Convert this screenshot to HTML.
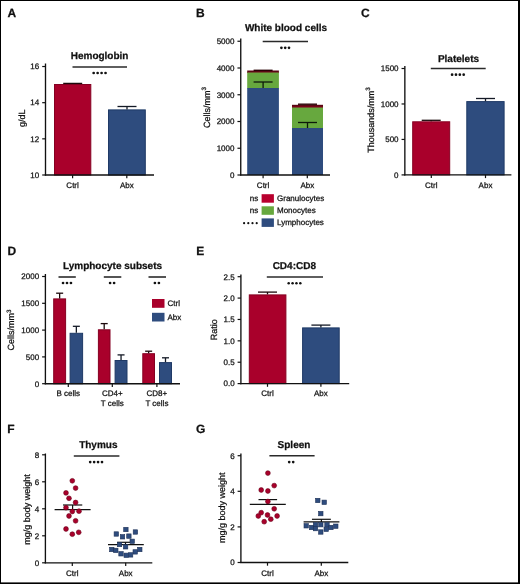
<!DOCTYPE html>
<html><head><meta charset="utf-8"><style>
html,body{margin:0;padding:0;background:#fff;}
svg{display:block;will-change:transform;}
text{font-family:"Liberation Sans", sans-serif;fill:#111;stroke:#111;stroke-width:0.25px;text-rendering:geometricPrecision;}
</style></head><body>
<svg width="520" height="584" viewBox="0 0 520 584">
<rect x="0" y="0" width="520" height="584" fill="#000"/>
<rect x="1" y="1" width="517" height="581.4" fill="#fff"/>
<text x="7.6" y="17.3" font-size="12" text-anchor="start" font-weight="bold">A</text>
<text x="99.6" y="58.8" font-size="10" text-anchor="middle" font-weight="bold">Hemoglobin</text>
<line x1="72.5" y1="66.9" x2="127" y2="66.9" stroke="#2a2a2a" stroke-width="1.5"/>
<circle cx="93.67" cy="73" r="1.35" fill="#111"/>
<circle cx="97.62" cy="73" r="1.35" fill="#111"/>
<circle cx="101.58" cy="73" r="1.35" fill="#111"/>
<circle cx="105.53" cy="73" r="1.35" fill="#111"/>
<rect x="54.5" y="84.5" width="36.3" height="90.5" fill="#a9002b" stroke="#850022" stroke-width="1"/>
<rect x="108.5" y="109.9" width="36.8" height="65.1" fill="#2e4c7e" stroke="#1f3a66" stroke-width="1"/>
<line x1="63.2" y1="83.4" x2="82.2" y2="83.4" stroke="#1c0a0c" stroke-width="1.3"/>
<line x1="72.7" y1="83.4" x2="72.7" y2="84" stroke="#1c0a0c" stroke-width="1.3"/>
<line x1="117.5" y1="106.5" x2="136.5" y2="106.5" stroke="#141a26" stroke-width="1.3"/>
<line x1="127" y1="106.5" x2="127" y2="109.4" stroke="#141a26" stroke-width="1.3"/>
<line x1="45.5" y1="63.5" x2="45.5" y2="175.6" stroke="#111" stroke-width="1.35"/>
<line x1="42.2" y1="66.52" x2="45.5" y2="66.52" stroke="#111" stroke-width="1.2"/>
<text x="39.2" y="69.32" font-size="8" text-anchor="end">16</text>
<line x1="42.2" y1="102.68" x2="45.5" y2="102.68" stroke="#111" stroke-width="1.2"/>
<text x="39.2" y="105.48" font-size="8" text-anchor="end">14</text>
<line x1="42.2" y1="138.84" x2="45.5" y2="138.84" stroke="#111" stroke-width="1.2"/>
<text x="39.2" y="141.64" font-size="8" text-anchor="end">12</text>
<line x1="42.2" y1="175" x2="45.5" y2="175" stroke="#111" stroke-width="1.2"/>
<text x="39.2" y="177.8" font-size="8" text-anchor="end">10</text>
<line x1="44.9" y1="175" x2="154" y2="175" stroke="#111" stroke-width="1.35"/>
<line x1="72.6" y1="175" x2="72.6" y2="178.2" stroke="#111" stroke-width="1.2"/>
<line x1="126.8" y1="175" x2="126.8" y2="178.2" stroke="#111" stroke-width="1.2"/>
<text x="72.6" y="187.5" font-size="8" text-anchor="middle">Ctrl</text>
<text x="126.8" y="187.5" font-size="8" text-anchor="middle">Abx</text>
<text transform="translate(25.3,118.3) rotate(-90)" font-size="9" text-anchor="middle">g/dL</text>
<text x="196" y="17.3" font-size="12" text-anchor="start" font-weight="bold">B</text>
<text x="286" y="31.3" font-size="10" text-anchor="middle" font-weight="bold">White blood cells</text>
<line x1="262.7" y1="41.6" x2="308" y2="41.6" stroke="#2a2a2a" stroke-width="1.5"/>
<circle cx="281.4" cy="47.8" r="1.35" fill="#111"/>
<circle cx="285.2" cy="47.8" r="1.35" fill="#111"/>
<circle cx="289" cy="47.8" r="1.35" fill="#111"/>
<rect x="247.2" y="70.5" width="31.7" height="2.5" fill="#5a0612"/>
<rect x="247.2" y="72.1" width="31.7" height="0.6" fill="#8a0020"/>
<rect x="247.2" y="72.5" width="31.7" height="16" fill="#67a83e"/>
<rect x="247.2" y="88" width="31.7" height="87" fill="#2e4c7e"/>
<line x1="253.6" y1="70.3" x2="272.6" y2="70.3" stroke="#2a0005" stroke-width="1.4"/>
<line x1="253.6" y1="82" x2="272.6" y2="82" stroke="#0e1a0a" stroke-width="1.3"/>
<line x1="263.1" y1="82" x2="263.1" y2="88" stroke="#0e1a0a" stroke-width="1.3"/>
<rect x="292" y="104.8" width="31" height="3.2" fill="#5a0612"/>
<rect x="292" y="106.4" width="31" height="1.3" fill="#8a0020"/>
<rect x="292" y="107.5" width="31" height="21" fill="#67a83e"/>
<rect x="292" y="128" width="31" height="47" fill="#2e4c7e"/>
<line x1="298" y1="104.2" x2="317" y2="104.2" stroke="#2a0005" stroke-width="1.4"/>
<line x1="298" y1="122.5" x2="317" y2="122.5" stroke="#0e1a0a" stroke-width="1.3"/>
<line x1="307.5" y1="122.5" x2="307.5" y2="128" stroke="#0e1a0a" stroke-width="1.3"/>
<line x1="240.75" y1="38.6" x2="240.75" y2="175.6" stroke="#111" stroke-width="1.35"/>
<line x1="237.45" y1="41.25" x2="240.75" y2="41.25" stroke="#111" stroke-width="1.2"/>
<text x="234.45" y="44.05" font-size="8" text-anchor="end">5000</text>
<line x1="237.45" y1="68" x2="240.75" y2="68" stroke="#111" stroke-width="1.2"/>
<text x="234.45" y="70.8" font-size="8" text-anchor="end">4000</text>
<line x1="237.45" y1="94.75" x2="240.75" y2="94.75" stroke="#111" stroke-width="1.2"/>
<text x="234.45" y="97.55" font-size="8" text-anchor="end">3000</text>
<line x1="237.45" y1="121.5" x2="240.75" y2="121.5" stroke="#111" stroke-width="1.2"/>
<text x="234.45" y="124.3" font-size="8" text-anchor="end">2000</text>
<line x1="237.45" y1="148.25" x2="240.75" y2="148.25" stroke="#111" stroke-width="1.2"/>
<text x="234.45" y="151.05" font-size="8" text-anchor="end">1000</text>
<line x1="237.45" y1="175" x2="240.75" y2="175" stroke="#111" stroke-width="1.2"/>
<text x="234.45" y="177.8" font-size="8" text-anchor="end">0</text>
<line x1="240.15" y1="175" x2="330" y2="175" stroke="#111" stroke-width="1.35"/>
<line x1="263.1" y1="175" x2="263.1" y2="178.2" stroke="#111" stroke-width="1.2"/>
<line x1="307.3" y1="175" x2="307.3" y2="178.2" stroke="#111" stroke-width="1.2"/>
<text x="263.1" y="187.5" font-size="8" text-anchor="middle">Ctrl</text>
<text x="307.3" y="187.5" font-size="8" text-anchor="middle">Abx</text>
<text transform="translate(210,107.6) rotate(-90)" font-size="9" text-anchor="middle">Cells/mm<tspan dy="-3.6" font-size="6.3">3</tspan></text>
<rect x="261.6" y="194.2" width="12.3" height="8.5" fill="#b8002e"/>
<text x="277" y="201" font-size="8" text-anchor="start">Granulocytes</text>
<text x="258.3" y="201" font-size="8" text-anchor="end">ns</text>
<rect x="261.6" y="206.3" width="12.3" height="8.5" fill="#67a83e"/>
<text x="277" y="213.1" font-size="8" text-anchor="start">Monocytes</text>
<text x="258.3" y="213.1" font-size="8" text-anchor="end">ns</text>
<rect x="261.6" y="218.4" width="12.3" height="8.5" fill="#2e4c7e"/>
<text x="277" y="225.2" font-size="8" text-anchor="start">Lymphocytes</text>
<circle cx="244.1" cy="223.2" r="1.1" fill="#111"/>
<circle cx="248.3" cy="223.2" r="1.1" fill="#111"/>
<circle cx="252.5" cy="223.2" r="1.1" fill="#111"/>
<circle cx="256.7" cy="223.2" r="1.1" fill="#111"/>
<text x="361" y="17.3" font-size="12" text-anchor="start" font-weight="bold">C</text>
<text x="458.5" y="62.2" font-size="10" text-anchor="middle" font-weight="bold">Platelets</text>
<line x1="430.8" y1="68.6" x2="485.7" y2="68.6" stroke="#2a2a2a" stroke-width="1.5"/>
<circle cx="452.09" cy="74.7" r="1.35" fill="#111"/>
<circle cx="455.96" cy="74.7" r="1.35" fill="#111"/>
<circle cx="459.83" cy="74.7" r="1.35" fill="#111"/>
<circle cx="463.7" cy="74.7" r="1.35" fill="#111"/>
<rect x="412.7" y="121.8" width="37" height="53.1" fill="#a9002b" stroke="#850022" stroke-width="1"/>
<rect x="466.8" y="101.6" width="37.3" height="73.3" fill="#2e4c7e" stroke="#1f3a66" stroke-width="1"/>
<line x1="421.7" y1="120.3" x2="440.7" y2="120.3" stroke="#1c0a0c" stroke-width="1.3"/>
<line x1="431.2" y1="120.3" x2="431.2" y2="121.3" stroke="#1c0a0c" stroke-width="1.3"/>
<line x1="476" y1="98.5" x2="495" y2="98.5" stroke="#141a26" stroke-width="1.3"/>
<line x1="485.5" y1="98.5" x2="485.5" y2="101.2" stroke="#141a26" stroke-width="1.3"/>
<line x1="404.85" y1="66" x2="404.85" y2="175.5" stroke="#111" stroke-width="1.35"/>
<line x1="401.55" y1="68.5" x2="404.85" y2="68.5" stroke="#111" stroke-width="1.2"/>
<text x="398.55" y="71.3" font-size="8" text-anchor="end">1500</text>
<line x1="401.55" y1="103.97" x2="404.85" y2="103.97" stroke="#111" stroke-width="1.2"/>
<text x="398.55" y="106.77" font-size="8" text-anchor="end">1000</text>
<line x1="401.55" y1="139.44" x2="404.85" y2="139.44" stroke="#111" stroke-width="1.2"/>
<text x="398.55" y="142.24" font-size="8" text-anchor="end">500</text>
<line x1="401.55" y1="174.9" x2="404.85" y2="174.9" stroke="#111" stroke-width="1.2"/>
<text x="398.55" y="177.7" font-size="8" text-anchor="end">0</text>
<line x1="404.25" y1="174.9" x2="511.4" y2="174.9" stroke="#111" stroke-width="1.35"/>
<line x1="431.3" y1="174.9" x2="431.3" y2="178.1" stroke="#111" stroke-width="1.2"/>
<line x1="485.5" y1="174.9" x2="485.5" y2="178.1" stroke="#111" stroke-width="1.2"/>
<text x="431.3" y="187.5" font-size="8" text-anchor="middle">Ctrl</text>
<text x="485.5" y="187.5" font-size="8" text-anchor="middle">Abx</text>
<text transform="translate(374,120) rotate(-90)" font-size="9" text-anchor="middle">Thousands/mm<tspan dy="-3.6" font-size="6.3">3</tspan></text>
<text x="7.4" y="254.5" font-size="12" text-anchor="start" font-weight="bold">D</text>
<text x="112.5" y="269.3" font-size="10" text-anchor="middle" font-weight="bold">Lymphocyte subsets</text>
<line x1="58.5" y1="277" x2="75.8" y2="277" stroke="#2a2a2a" stroke-width="1.6"/>
<line x1="103.8" y1="277" x2="121.3" y2="277" stroke="#2a2a2a" stroke-width="1.6"/>
<line x1="148.5" y1="277" x2="166" y2="277" stroke="#2a2a2a" stroke-width="1.6"/>
<circle cx="63.05" cy="283" r="1.35" fill="#111"/>
<circle cx="67" cy="283" r="1.35" fill="#111"/>
<circle cx="70.95" cy="283" r="1.35" fill="#111"/>
<circle cx="110.1" cy="283" r="1.35" fill="#111"/>
<circle cx="114.1" cy="283" r="1.35" fill="#111"/>
<circle cx="154.9" cy="283" r="1.35" fill="#111"/>
<circle cx="158.9" cy="283" r="1.35" fill="#111"/>
<rect x="53.7" y="298.9" width="11.9" height="84.8" fill="#a9002b" stroke="#850022" stroke-width="1"/>
<line x1="56.15" y1="293.2" x2="63.15" y2="293.2" stroke="#1c0a0c" stroke-width="1.3"/>
<line x1="59.65" y1="293.2" x2="59.65" y2="298.4" stroke="#1c0a0c" stroke-width="1.3"/>
<rect x="70.1" y="333.3" width="12.5" height="50.4" fill="#2e4c7e" stroke="#1f3a66" stroke-width="1"/>
<line x1="72.85" y1="326.3" x2="79.85" y2="326.3" stroke="#141a26" stroke-width="1.3"/>
<line x1="76.35" y1="326.3" x2="76.35" y2="332.8" stroke="#141a26" stroke-width="1.3"/>
<rect x="98.4" y="329.8" width="11.6" height="53.9" fill="#a9002b" stroke="#850022" stroke-width="1"/>
<line x1="100.7" y1="323.6" x2="107.7" y2="323.6" stroke="#1c0a0c" stroke-width="1.3"/>
<line x1="104.2" y1="323.6" x2="104.2" y2="329.3" stroke="#1c0a0c" stroke-width="1.3"/>
<rect x="115.1" y="360.5" width="11.9" height="23.2" fill="#2e4c7e" stroke="#1f3a66" stroke-width="1"/>
<line x1="117.55" y1="354.9" x2="124.55" y2="354.9" stroke="#141a26" stroke-width="1.3"/>
<line x1="121.05" y1="354.9" x2="121.05" y2="360" stroke="#141a26" stroke-width="1.3"/>
<rect x="142.8" y="353.7" width="11.7" height="30" fill="#a9002b" stroke="#850022" stroke-width="1"/>
<line x1="145.15" y1="351.2" x2="152.15" y2="351.2" stroke="#1c0a0c" stroke-width="1.3"/>
<line x1="148.65" y1="351.2" x2="148.65" y2="353.2" stroke="#1c0a0c" stroke-width="1.3"/>
<rect x="159.5" y="362.6" width="12" height="21.1" fill="#2e4c7e" stroke="#1f3a66" stroke-width="1"/>
<line x1="162" y1="357.8" x2="169" y2="357.8" stroke="#141a26" stroke-width="1.3"/>
<line x1="165.5" y1="357.8" x2="165.5" y2="362.1" stroke="#141a26" stroke-width="1.3"/>
<line x1="45.4" y1="274" x2="45.4" y2="384.3" stroke="#111" stroke-width="1.35"/>
<line x1="42.1" y1="276.5" x2="45.4" y2="276.5" stroke="#111" stroke-width="1.2"/>
<text x="39.1" y="279.3" font-size="8" text-anchor="end">2000</text>
<line x1="42.1" y1="303.3" x2="45.4" y2="303.3" stroke="#111" stroke-width="1.2"/>
<text x="39.1" y="306.1" font-size="8" text-anchor="end">1500</text>
<line x1="42.1" y1="330.1" x2="45.4" y2="330.1" stroke="#111" stroke-width="1.2"/>
<text x="39.1" y="332.9" font-size="8" text-anchor="end">1000</text>
<line x1="42.1" y1="356.9" x2="45.4" y2="356.9" stroke="#111" stroke-width="1.2"/>
<text x="39.1" y="359.7" font-size="8" text-anchor="end">500</text>
<line x1="42.1" y1="383.7" x2="45.4" y2="383.7" stroke="#111" stroke-width="1.2"/>
<text x="39.1" y="386.5" font-size="8" text-anchor="end">0</text>
<line x1="44.8" y1="383.7" x2="180" y2="383.7" stroke="#111" stroke-width="1.35"/>
<line x1="68.3" y1="383.7" x2="68.3" y2="386.9" stroke="#111" stroke-width="1.2"/>
<line x1="112.3" y1="383.7" x2="112.3" y2="386.9" stroke="#111" stroke-width="1.2"/>
<line x1="156.9" y1="383.7" x2="156.9" y2="386.9" stroke="#111" stroke-width="1.2"/>
<text x="68.3" y="396" font-size="8" text-anchor="middle">B cells</text>
<text x="112.3" y="396" font-size="8" text-anchor="middle">CD4+</text>
<text x="112.3" y="406" font-size="8" text-anchor="middle">T cells</text>
<text x="156.9" y="396" font-size="8" text-anchor="middle">CD8+</text>
<text x="156.9" y="406" font-size="8" text-anchor="middle">T cells</text>
<text transform="translate(14.4,330) rotate(-90)" font-size="9" text-anchor="middle">Cells/mm<tspan dy="-3.6" font-size="6.3">3</tspan></text>
<rect x="152" y="299" width="12.5" height="8.8" fill="#a9002b"/>
<rect x="152" y="312.8" width="12.5" height="8.7" fill="#2e4c7e"/>
<text x="167.5" y="306.3" font-size="8" text-anchor="start">Ctrl</text>
<text x="167.5" y="320" font-size="8" text-anchor="start">Abx</text>
<text x="196.3" y="254.5" font-size="12" text-anchor="start" font-weight="bold">E</text>
<text x="294.3" y="269.3" font-size="10" text-anchor="middle" font-weight="bold">CD4:CD8</text>
<line x1="266.8" y1="276.9" x2="323" y2="276.9" stroke="#2a2a2a" stroke-width="1.5"/>
<circle cx="288.69" cy="283.2" r="1.25" fill="#111"/>
<circle cx="292.56" cy="283.2" r="1.25" fill="#111"/>
<circle cx="296.44" cy="283.2" r="1.25" fill="#111"/>
<circle cx="300.31" cy="283.2" r="1.25" fill="#111"/>
<rect x="249.3" y="294.9" width="36.6" height="88.7" fill="#a9002b" stroke="#850022" stroke-width="1"/>
<rect x="302.6" y="327.9" width="36.6" height="55.7" fill="#2e4c7e" stroke="#1f3a66" stroke-width="1"/>
<line x1="258" y1="292.1" x2="277" y2="292.1" stroke="#1c0a0c" stroke-width="1.3"/>
<line x1="267.5" y1="292.1" x2="267.5" y2="294.4" stroke="#1c0a0c" stroke-width="1.3"/>
<line x1="311.4" y1="325.1" x2="330.4" y2="325.1" stroke="#141a26" stroke-width="1.3"/>
<line x1="320.9" y1="325.1" x2="320.9" y2="327.4" stroke="#141a26" stroke-width="1.3"/>
<line x1="240.9" y1="274.5" x2="240.9" y2="384.2" stroke="#111" stroke-width="1.35"/>
<line x1="237.6" y1="276.7" x2="240.9" y2="276.7" stroke="#111" stroke-width="1.2"/>
<text x="234.6" y="279.5" font-size="8" text-anchor="end">2.5</text>
<line x1="237.6" y1="298.08" x2="240.9" y2="298.08" stroke="#111" stroke-width="1.2"/>
<text x="234.6" y="300.88" font-size="8" text-anchor="end">2.0</text>
<line x1="237.6" y1="319.46" x2="240.9" y2="319.46" stroke="#111" stroke-width="1.2"/>
<text x="234.6" y="322.26" font-size="8" text-anchor="end">1.5</text>
<line x1="237.6" y1="340.84" x2="240.9" y2="340.84" stroke="#111" stroke-width="1.2"/>
<text x="234.6" y="343.64" font-size="8" text-anchor="end">1.0</text>
<line x1="237.6" y1="362.22" x2="240.9" y2="362.22" stroke="#111" stroke-width="1.2"/>
<text x="234.6" y="365.02" font-size="8" text-anchor="end">0.5</text>
<line x1="237.6" y1="383.6" x2="240.9" y2="383.6" stroke="#111" stroke-width="1.2"/>
<text x="234.6" y="386.4" font-size="8" text-anchor="end">0.0</text>
<line x1="240.3" y1="383.6" x2="349.2" y2="383.6" stroke="#111" stroke-width="1.35"/>
<line x1="267.5" y1="383.6" x2="267.5" y2="386.8" stroke="#111" stroke-width="1.2"/>
<line x1="320.9" y1="383.6" x2="320.9" y2="386.8" stroke="#111" stroke-width="1.2"/>
<text x="267.5" y="396.3" font-size="8" text-anchor="middle">Ctrl</text>
<text x="320.9" y="396.3" font-size="8" text-anchor="middle">Abx</text>
<text transform="translate(216.5,329.7) rotate(-90)" font-size="9" text-anchor="middle">Ratio</text>
<text x="7.2" y="433.3" font-size="12" text-anchor="start" font-weight="bold">F</text>
<text x="98.3" y="448.3" font-size="10" text-anchor="middle" font-weight="bold">Thymus</text>
<line x1="73.8" y1="455.9" x2="119.4" y2="455.9" stroke="#2a2a2a" stroke-width="1.5"/>
<circle cx="90.2" cy="462.1" r="1.35" fill="#111"/>
<circle cx="94.14" cy="462.1" r="1.35" fill="#111"/>
<circle cx="98.06" cy="462.1" r="1.35" fill="#111"/>
<circle cx="102" cy="462.1" r="1.35" fill="#111"/>
<line x1="54.6" y1="509.6" x2="90.6" y2="509.6" stroke="#111" stroke-width="1.35"/>
<line x1="62.95" y1="505" x2="82.25" y2="505" stroke="#111" stroke-width="1.2"/>
<line x1="72.6" y1="505" x2="72.6" y2="509.6" stroke="#111" stroke-width="1.2"/>
<line x1="108" y1="544.6" x2="143.8" y2="544.6" stroke="#111" stroke-width="1.35"/>
<line x1="117.1" y1="542.3" x2="133.9" y2="542.3" stroke="#111" stroke-width="1.2"/>
<line x1="125.5" y1="542.3" x2="125.5" y2="544.6" stroke="#111" stroke-width="1.2"/>
<circle cx="72.3" cy="480.8" r="2.4" fill="#a9002b" stroke="#6a0018" stroke-width="0.6"/>
<circle cx="75.6" cy="488.1" r="2.4" fill="#a9002b" stroke="#6a0018" stroke-width="0.6"/>
<circle cx="66" cy="492.9" r="2.4" fill="#a9002b" stroke="#6a0018" stroke-width="0.6"/>
<circle cx="69" cy="498.3" r="2.4" fill="#a9002b" stroke="#6a0018" stroke-width="0.6"/>
<circle cx="75.6" cy="502.5" r="2.4" fill="#a9002b" stroke="#6a0018" stroke-width="0.6"/>
<circle cx="66" cy="507.7" r="2.4" fill="#a9002b" stroke="#6a0018" stroke-width="0.6"/>
<circle cx="72.3" cy="511.5" r="2.4" fill="#a9002b" stroke="#6a0018" stroke-width="0.6"/>
<circle cx="79" cy="511.2" r="2.4" fill="#a9002b" stroke="#6a0018" stroke-width="0.6"/>
<circle cx="69" cy="516" r="2.4" fill="#a9002b" stroke="#6a0018" stroke-width="0.6"/>
<circle cx="75.6" cy="520.8" r="2.4" fill="#a9002b" stroke="#6a0018" stroke-width="0.6"/>
<circle cx="66" cy="529" r="2.4" fill="#a9002b" stroke="#6a0018" stroke-width="0.6"/>
<circle cx="72.3" cy="534.2" r="2.4" fill="#a9002b" stroke="#6a0018" stroke-width="0.6"/>
<circle cx="78.7" cy="532.3" r="2.4" fill="#a9002b" stroke="#6a0018" stroke-width="0.6"/>
<rect x="123.7" y="527.3" width="4.4" height="4.4" fill="#2e4c7e" stroke="#1e3258" stroke-width="0.6"/>
<rect x="114.1" y="531.8" width="4.4" height="4.4" fill="#2e4c7e" stroke="#1e3258" stroke-width="0.6"/>
<rect x="133.2" y="529.8" width="4.4" height="4.4" fill="#2e4c7e" stroke="#1e3258" stroke-width="0.6"/>
<rect x="120.3" y="534.6" width="4.4" height="4.4" fill="#2e4c7e" stroke="#1e3258" stroke-width="0.6"/>
<rect x="126.7" y="533.9" width="4.4" height="4.4" fill="#2e4c7e" stroke="#1e3258" stroke-width="0.6"/>
<rect x="130" y="539.1" width="4.4" height="4.4" fill="#2e4c7e" stroke="#1e3258" stroke-width="0.6"/>
<rect x="117.3" y="542.3" width="4.4" height="4.4" fill="#2e4c7e" stroke="#1e3258" stroke-width="0.6"/>
<rect x="123.4" y="544.6" width="4.4" height="4.4" fill="#2e4c7e" stroke="#1e3258" stroke-width="0.6"/>
<rect x="109.6" y="547.3" width="4.4" height="4.4" fill="#2e4c7e" stroke="#1e3258" stroke-width="0.6"/>
<rect x="113.6" y="548.2" width="4.4" height="4.4" fill="#2e4c7e" stroke="#1e3258" stroke-width="0.6"/>
<rect x="137.6" y="547.3" width="4.4" height="4.4" fill="#2e4c7e" stroke="#1e3258" stroke-width="0.6"/>
<rect x="133" y="549.7" width="4.4" height="4.4" fill="#2e4c7e" stroke="#1e3258" stroke-width="0.6"/>
<rect x="118.8" y="551.6" width="4.4" height="4.4" fill="#2e4c7e" stroke="#1e3258" stroke-width="0.6"/>
<rect x="124" y="553.1" width="4.4" height="4.4" fill="#2e4c7e" stroke="#1e3258" stroke-width="0.6"/>
<rect x="128.4" y="552.7" width="4.4" height="4.4" fill="#2e4c7e" stroke="#1e3258" stroke-width="0.6"/>
<line x1="45.4" y1="453.5" x2="45.4" y2="563.4" stroke="#111" stroke-width="1.35"/>
<line x1="42.1" y1="454.8" x2="45.4" y2="454.8" stroke="#111" stroke-width="1.2"/>
<text x="39.1" y="457.6" font-size="8" text-anchor="end">8</text>
<line x1="42.1" y1="481.8" x2="45.4" y2="481.8" stroke="#111" stroke-width="1.2"/>
<text x="39.1" y="484.6" font-size="8" text-anchor="end">6</text>
<line x1="42.1" y1="508.8" x2="45.4" y2="508.8" stroke="#111" stroke-width="1.2"/>
<text x="39.1" y="511.6" font-size="8" text-anchor="end">4</text>
<line x1="42.1" y1="535.8" x2="45.4" y2="535.8" stroke="#111" stroke-width="1.2"/>
<text x="39.1" y="538.6" font-size="8" text-anchor="end">2</text>
<line x1="42.1" y1="562.8" x2="45.4" y2="562.8" stroke="#111" stroke-width="1.2"/>
<text x="39.1" y="565.6" font-size="8" text-anchor="end">0</text>
<line x1="44.8" y1="562.8" x2="152.3" y2="562.8" stroke="#111" stroke-width="1.35"/>
<line x1="72.3" y1="562.8" x2="72.3" y2="566" stroke="#111" stroke-width="1.2"/>
<line x1="125.7" y1="562.8" x2="125.7" y2="566" stroke="#111" stroke-width="1.2"/>
<text x="72.3" y="575.5" font-size="8" text-anchor="middle">Ctrl</text>
<text x="125.7" y="575.5" font-size="8" text-anchor="middle">Abx</text>
<text transform="translate(29.5,509.6) rotate(-90)" font-size="9" text-anchor="middle">mg/g body weight</text>
<text x="195.9" y="433.1" font-size="12" text-anchor="start" font-weight="bold">G</text>
<text x="294" y="448.3" font-size="10" text-anchor="middle" font-weight="bold">Spleen</text>
<line x1="269.4" y1="455.8" x2="314.6" y2="455.8" stroke="#2a2a2a" stroke-width="1.5"/>
<circle cx="289.2" cy="462.1" r="1.35" fill="#111"/>
<circle cx="293.2" cy="462.1" r="1.35" fill="#111"/>
<line x1="249.8" y1="504.4" x2="285.8" y2="504.4" stroke="#111" stroke-width="1.35"/>
<line x1="258.5" y1="499.6" x2="277.1" y2="499.6" stroke="#111" stroke-width="1.2"/>
<line x1="267.8" y1="499.6" x2="267.8" y2="504.4" stroke="#111" stroke-width="1.2"/>
<line x1="303.6" y1="521.9" x2="339.4" y2="521.9" stroke="#111" stroke-width="1.35"/>
<line x1="311.95" y1="519.3" x2="330.85" y2="519.3" stroke="#111" stroke-width="1.2"/>
<line x1="321.4" y1="519.3" x2="321.4" y2="521.9" stroke="#111" stroke-width="1.2"/>
<circle cx="267.9" cy="473.1" r="2.4" fill="#a9002b" stroke="#6a0018" stroke-width="0.6"/>
<circle cx="274.2" cy="485.6" r="2.4" fill="#a9002b" stroke="#6a0018" stroke-width="0.6"/>
<circle cx="261.2" cy="490" r="2.4" fill="#a9002b" stroke="#6a0018" stroke-width="0.6"/>
<circle cx="267.9" cy="491" r="2.4" fill="#a9002b" stroke="#6a0018" stroke-width="0.6"/>
<circle cx="267.9" cy="501.5" r="2.4" fill="#a9002b" stroke="#6a0018" stroke-width="0.6"/>
<circle cx="274.2" cy="508.8" r="2.4" fill="#a9002b" stroke="#6a0018" stroke-width="0.6"/>
<circle cx="261.2" cy="512.7" r="2.4" fill="#a9002b" stroke="#6a0018" stroke-width="0.6"/>
<circle cx="258.3" cy="516" r="2.4" fill="#a9002b" stroke="#6a0018" stroke-width="0.6"/>
<circle cx="267.5" cy="515" r="2.4" fill="#a9002b" stroke="#6a0018" stroke-width="0.6"/>
<circle cx="277.1" cy="516" r="2.4" fill="#a9002b" stroke="#6a0018" stroke-width="0.6"/>
<circle cx="270.8" cy="519.2" r="2.4" fill="#a9002b" stroke="#6a0018" stroke-width="0.6"/>
<circle cx="264.2" cy="521.7" r="2.4" fill="#a9002b" stroke="#6a0018" stroke-width="0.6"/>
<rect x="315.6" y="498.3" width="4.4" height="4.4" fill="#2e4c7e" stroke="#1e3258" stroke-width="0.6"/>
<rect x="322" y="500.1" width="4.4" height="4.4" fill="#2e4c7e" stroke="#1e3258" stroke-width="0.6"/>
<rect x="318.6" y="511.4" width="4.4" height="4.4" fill="#2e4c7e" stroke="#1e3258" stroke-width="0.6"/>
<rect x="304" y="523.6" width="4.4" height="4.4" fill="#2e4c7e" stroke="#1e3258" stroke-width="0.6"/>
<rect x="309.4" y="525.3" width="4.4" height="4.4" fill="#2e4c7e" stroke="#1e3258" stroke-width="0.6"/>
<rect x="313.3" y="522.5" width="4.4" height="4.4" fill="#2e4c7e" stroke="#1e3258" stroke-width="0.6"/>
<rect x="318.6" y="522.5" width="4.4" height="4.4" fill="#2e4c7e" stroke="#1e3258" stroke-width="0.6"/>
<rect x="324.8" y="522.5" width="4.4" height="4.4" fill="#2e4c7e" stroke="#1e3258" stroke-width="0.6"/>
<rect x="328.7" y="525.3" width="4.4" height="4.4" fill="#2e4c7e" stroke="#1e3258" stroke-width="0.6"/>
<rect x="333.6" y="524" width="4.4" height="4.4" fill="#2e4c7e" stroke="#1e3258" stroke-width="0.6"/>
<rect x="313.3" y="526.4" width="4.4" height="4.4" fill="#2e4c7e" stroke="#1e3258" stroke-width="0.6"/>
<rect x="324" y="527.1" width="4.4" height="4.4" fill="#2e4c7e" stroke="#1e3258" stroke-width="0.6"/>
<rect x="318.6" y="529.8" width="4.4" height="4.4" fill="#2e4c7e" stroke="#1e3258" stroke-width="0.6"/>
<line x1="240.9" y1="453.5" x2="240.9" y2="563.1" stroke="#111" stroke-width="1.35"/>
<line x1="237.6" y1="455.7" x2="240.9" y2="455.7" stroke="#111" stroke-width="1.2"/>
<text x="234.6" y="458.5" font-size="8" text-anchor="end">6</text>
<line x1="237.6" y1="491.3" x2="240.9" y2="491.3" stroke="#111" stroke-width="1.2"/>
<text x="234.6" y="494.1" font-size="8" text-anchor="end">4</text>
<line x1="237.6" y1="526.9" x2="240.9" y2="526.9" stroke="#111" stroke-width="1.2"/>
<text x="234.6" y="529.7" font-size="8" text-anchor="end">2</text>
<line x1="237.6" y1="562.5" x2="240.9" y2="562.5" stroke="#111" stroke-width="1.2"/>
<text x="234.6" y="565.3" font-size="8" text-anchor="end">0</text>
<line x1="240.3" y1="562.5" x2="348.3" y2="562.5" stroke="#111" stroke-width="1.35"/>
<line x1="267.5" y1="562.5" x2="267.5" y2="565.7" stroke="#111" stroke-width="1.2"/>
<line x1="321.3" y1="562.5" x2="321.3" y2="565.7" stroke="#111" stroke-width="1.2"/>
<text x="267.5" y="575.5" font-size="8" text-anchor="middle">Ctrl</text>
<text x="321.3" y="575.5" font-size="8" text-anchor="middle">Abx</text>
<text transform="translate(225,507.7) rotate(-90)" font-size="9" text-anchor="middle">mg/g body weight</text>
</svg>
</body></html>
